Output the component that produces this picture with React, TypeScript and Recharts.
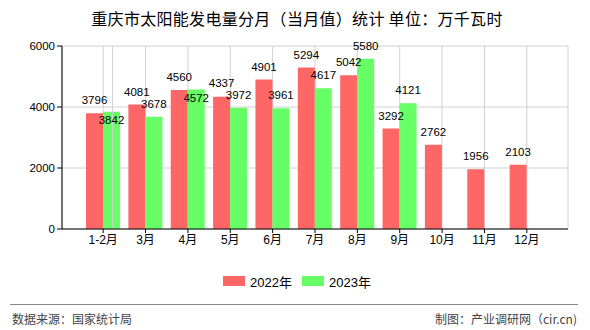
import React from "react";
import { BarChart, Bar, XAxis, YAxis, CartesianGrid, LabelList, ReferenceLine } from "recharts";

const categories = ["1-2月", "3月", "4月", "5月", "6月", "7月", "8月", "9月", "10月", "11月", "12月"];
const values2022 = [3796, 4081, 4560, 4337, 4901, 5294, 5042, 3292, 2762, 1956, 2103];
const values2023: (number | null)[] = [3842, 3678, 4572, 3972, 3961, 4617, 5580, 4121, null, null, null];
const yTicks = [0, 2000, 4000, 6000];
const seriesNames = ["2022年", "2023年"];
const colors = ["#ff6666", "#66ff66"];

const data = categories.map((c, i) => ({ name: c, a: values2022[i], b: values2023[i] }));

const FONT = "'Liberation Sans', 'Noto Sans CJK SC', sans-serif";

// pixel tops computed from bar geometry: both bars share baseline
function labelShift(index: number, isGreen: boolean, y: number, height: number, value: number) {
  const red = values2022[index];
  const green = values2023[index];
  if (green == null || !value) return -9;
  const base = y + height;
  const ppu = height / value;
  const redTop = base - red * ppu;
  const greenTop = base - green * ppu;
  const d = greenTop - redTop;
  if (Math.abs(d) < 6) {
    return isGreen ? 12 : -9;
  }
  if (Math.abs(d) < 12) {
    const push = (12 - Math.abs(d)) / 2;
    const sign = d > 0 ? 1 : -1;
    return isGreen ? -9 + sign * push : -9 - sign * push;
  }
  return -9;
}

const makeLabel = (isGreen: boolean) => (props: any) => {
  const { x, y, width, height, value, index } = props;
  if (value == null) return null;
  const dy = labelShift(index, isGreen, Number(y), Number(height), Number(value));
  return (
    <text x={Number(x) + Number(width) / 2} y={Number(y) + dy} textAnchor="middle" fontSize={11.5} fontFamily={FONT} fill="#000">
      {value}
    </text>
  );
};

export default function App() {
  return (
    <div style={{ position: "absolute", left: 0, top: 0, width: 590, height: 330, background: "#fff", fontFamily: FONT }}>
      <div style={{ position: "absolute", left: 0, top: 8, width: 594, textAlign: "center", fontSize: 16, color: "#000", fontFamily: "'Noto Sans CJK SC', sans-serif", letterSpacing: 0.3, lineHeight: "20px" }}>
        重庆市太阳能发电量分月（当月值）统计 单位：万千瓦时
      </div>
      <BarChart width={590} height={330} data={data} margin={{ top: 46, right: 22, left: 12, bottom: 71 }} barSize={17} barGap={0}>
        <CartesianGrid stroke="#d0d0d0" strokeWidth={1} />
        <XAxis
          dataKey="name"
          padding={{ left: 20, right: 20 }}
          tick={{ fontSize: 12, fill: "#000", fontFamily: FONT }}
          tickSize={4}
          axisLine={{ stroke: "#000" }}
          tickLine={{ stroke: "#000" }}
          interval={0}
          height={30}
        />
        <XAxis xAxisId="edge" type="number" domain={[0, 1]} hide />
        <YAxis
          domain={[0, 6000]}
          ticks={yTicks}
          width={50}
          tick={{ fontSize: 11.5, fill: "#000", fontFamily: FONT }}
          tickSize={5}
          axisLine={{ stroke: "#000" }}
          tickLine={{ stroke: "#000" }}
        />
        <ReferenceLine xAxisId="edge" x={1} stroke="#d0d0d0" />
        <Bar dataKey="a" fill={colors[0]} isAnimationActive={false}>
          <LabelList dataKey="a" content={makeLabel(false)} />
        </Bar>
        <Bar dataKey="b" fill={colors[1]} isAnimationActive={false}>
          <LabelList dataKey="b" content={makeLabel(true)} />
        </Bar>
      </BarChart>
      <div style={{ position: "absolute", left: 0, top: 272, width: 590, height: 18 }}>
        {seriesNames.map((n, i) => (
          <div key={n} style={{ position: "absolute", left: 223 + i * 79, top: 0, height: 18, display: "flex", alignItems: "center" }}>
            <span style={{ display: "inline-block", width: 22, height: 10, background: colors[i], marginRight: 5 }} />
            <span style={{ fontSize: 13, color: "#000", fontFamily: FONT }}>{n}</span>
          </div>
        ))}
      </div>
      <div style={{ position: "absolute", left: 10, top: 304, width: 568, height: 1, background: "#888" }} />
      <div style={{ position: "absolute", left: 12, top: 310, fontSize: 12, color: "#444", fontFamily: "'Noto Sans CJK SC', sans-serif" }}>数据来源：国家统计局</div>
      <div style={{ position: "absolute", right: 13, top: 310, fontSize: 12, color: "#444", fontFamily: "'Noto Sans CJK SC', sans-serif" }}>制图：产业调研网（cir.cn)</div>
    </div>
  );
}
